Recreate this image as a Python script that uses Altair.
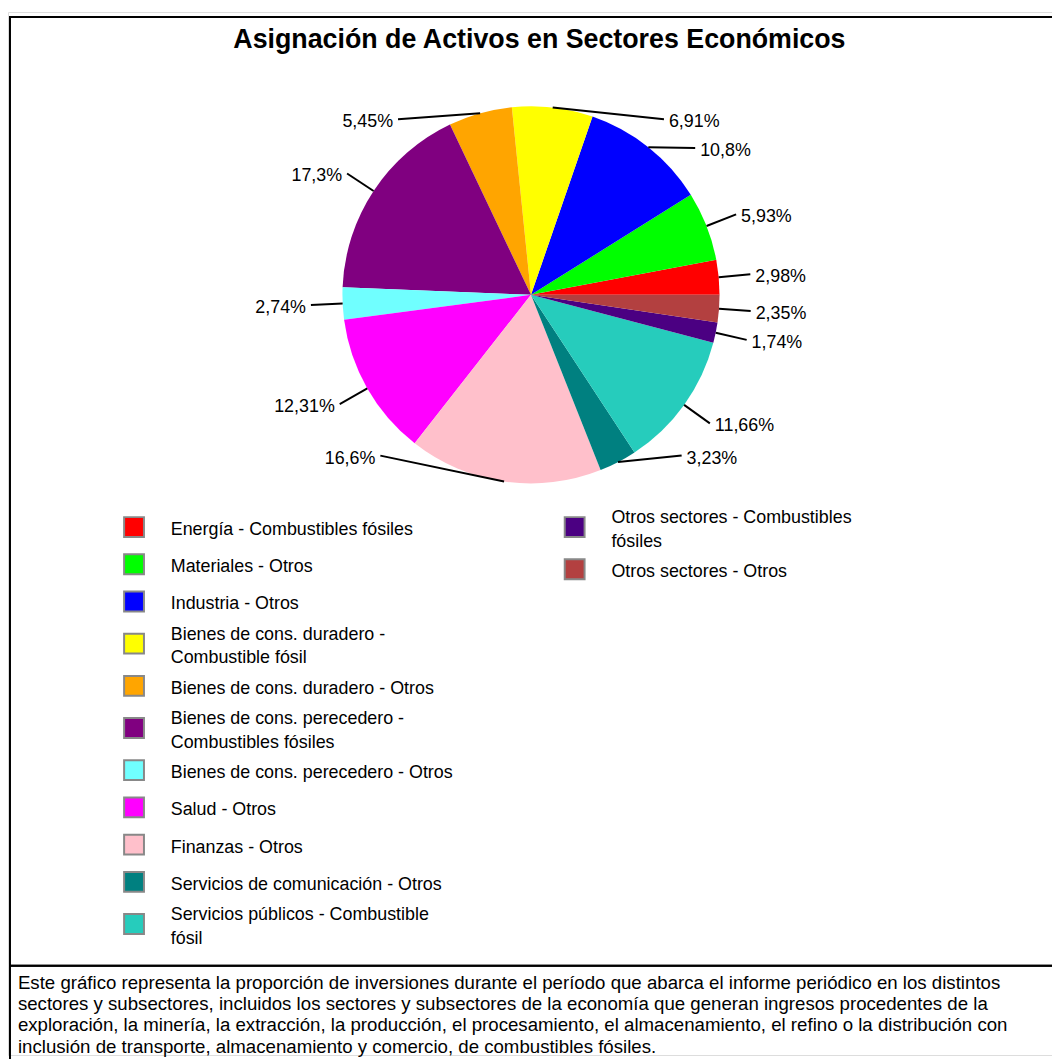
import math
import altair as alt
import pandas as pd

# ---------------- data ----------------
categories = [
    "Energía - Combustibles fósiles",
    "Materiales - Otros",
    "Industria - Otros",
    "Bienes de cons. duradero - Combustible fósil",
    "Bienes de cons. duradero - Otros",
    "Bienes de cons. perecedero - Combustibles fósiles",
    "Bienes de cons. perecedero - Otros",
    "Salud - Otros",
    "Finanzas - Otros",
    "Servicios de comunicación - Otros",
    "Servicios públicos - Combustible fósil",
    "Otros sectores - Combustibles fósiles",
    "Otros sectores - Otros",
]
values = [2.98, 5.93, 10.8, 6.91, 5.45, 17.3, 2.74, 12.31, 16.6, 3.23, 11.66, 1.74, 2.35]
colors = ["#FF0000", "#00FF00", "#0000FF", "#FFFF00", "#FFA500", "#800080", "#70FFFF",
          "#FF00FF", "#FFC0CB", "#008080", "#26CCBC", "#4B0082", "#B34040"]
legend_wrap = {
    "Bienes de cons. duradero - Combustible fósil": "Bienes de cons. duradero -\nCombustible fósil",
    "Bienes de cons. perecedero - Combustibles fósiles": "Bienes de cons. perecedero -\nCombustibles fósiles",
    "Servicios públicos - Combustible fósil": "Servicios públicos - Combustible\nfósil",
    "Otros sectores - Combustibles fósiles": "Otros sectores - Combustibles\nfósiles",
}
title_text = "Asignación de Activos en Sectores Económicos"
footnote_lines = [
    "Este gráfico representa la proporción de inversiones durante el período que abarca el informe periódico en los distintos",
    "sectores y subsectores, incluidos los sectores y subsectores de la economía que generan ingresos procedentes de la",
    "exploración, la minería, la extracción, la producción, el procesamiento, el almacenamiento, el refino o la distribución con",
    "inclusión de transporte, almacenamiento y comercio, de combustibles fósiles.",
]
N_COL1 = 11

# ---------------- layout ----------------
W, H = 1052, 1051
CX, CY, R = 527, 285, 190
RL = 222
FONT = "Liberation Sans"

df = pd.DataFrame({"category": categories, "value": values, "idx": list(range(len(values)))})

# label placement computed from the values
total = sum(values)
cum = 0.0
lab = []
for c, v in zip(categories, values):
    mid = (cum + v / 2) / total * 2 * math.pi
    cum += v
    side = "right" if math.cos(mid) >= 0 else "left"
    ty = CY - RL * math.sin(mid)
    ty = min(max(ty, CY - 177), CY + 162)
    lab.append(dict(category=c, mid=mid, side=side, ty=ty,
                    label=(f"{v:g}".replace(".", ",") + "%")))
for side in ("left", "right"):
    items = sorted([d for d in lab if d["side"] == side], key=lambda d: d["ty"])
    for j in range(1, len(items)):
        if items[j]["ty"] - items[j - 1]["ty"] < 29:
            items[j]["ty"] = items[j - 1]["ty"] + 29
for d in lab:
    sgn = 1 if d["side"] == "right" else -1
    dy = d["ty"] - CY
    d["x0"] = CX + R * math.cos(d["mid"])
    d["y0"] = CY - R * math.sin(d["mid"])
    d["x1"] = CX + sgn * math.sqrt(max(RL ** 2 - dy ** 2, 0))
    d["y1"] = d["ty"]
    d["tx"] = d["x1"] + sgn * 5
    d["tly"] = d["ty"] + 3
ldf = pd.DataFrame(lab)

# legend placement: column-major, two-line entries take a bit more room
leg = []
for col, (sx, lx) in enumerate([(127, 164), (571, 608)]):
    cats = categories[:N_COL1] if col == 0 else categories[N_COL1:]
    y = 519.0
    prev_lines = None
    for c in cats:
        txt = legend_wrap.get(c, c)
        nl = txt.count("\n") + 1
        if prev_lines is not None:
            y += 37.5 + 5 * ((prev_lines - 1) + (nl - 1))
        leg.append(dict(category=c, text=txt, sx=sx, lx=lx, sy=y, ly=y + 3 - 12 * (nl - 1)))
        prev_lines = nl
gdf = pd.DataFrame(leg)

xs = alt.Scale(domain=[0, W], nice=False, zero=False)
ys = alt.Scale(domain=[0, H], nice=False, zero=False, reverse=True)
cscale = alt.Scale(domain=categories, range=colors)

# pie
pie = alt.Chart(df).mark_arc(radius=R).encode(
    theta=alt.Theta("value:Q", stack=True,
                    scale=alt.Scale(range=[math.pi / 2, math.pi / 2 + 2 * math.pi])),
    order=alt.Order("idx:Q", sort="descending"),
    color=alt.Color("category:N", scale=cscale, legend=None),
    x=alt.value(CX),
    y=alt.value(CY),
)

leaders = alt.Chart(ldf).mark_rule(color="black", strokeWidth=2).encode(
    x=alt.X("x0:Q", scale=xs, axis=None),
    y=alt.Y("y0:Q", scale=ys, axis=None),
    x2="x1:Q",
    y2="y1:Q",
)

labels_r = alt.Chart(ldf).transform_filter(alt.datum.side == "right").mark_text(
    align="left", baseline="middle", font=FONT, fontSize=18, color="black"
).encode(x=alt.X("tx:Q", scale=xs, axis=None), y=alt.Y("tly:Q", scale=ys, axis=None), text="label:N")

labels_l = alt.Chart(ldf).transform_filter(alt.datum.side == "left").mark_text(
    align="right", baseline="middle", font=FONT, fontSize=18, color="black"
).encode(x=alt.X("tx:Q", scale=xs, axis=None), y=alt.Y("tly:Q", scale=ys, axis=None), text="label:N")

leg_sym = alt.Chart(gdf).mark_square(size=400, stroke="#888888", strokeWidth=2, opacity=1).encode(
    x=alt.X("sx:Q", scale=xs, axis=None),
    y=alt.Y("sy:Q", scale=ys, axis=None),
    color=alt.Color("category:N", scale=cscale, legend=None),
)
leg_txt = alt.Chart(gdf).mark_text(
    align="left", baseline="middle", font=FONT, fontSize=18, color="black", lineBreak="\n", lineHeight=24
).encode(
    x=alt.X("lx:Q", scale=xs, axis=None),
    y=alt.Y("ly:Q", scale=ys, axis=None),
    text="text:N",
)

one = pd.DataFrame({"k": [0]})
box_top = alt.Chart(one).mark_rect(fill="white", fillOpacity=0, stroke="black", strokeWidth=2).encode(
    x=alt.value(2), x2=alt.value(1200), y=alt.value(5), y2=alt.value(961))
box_bot = alt.Chart(one).mark_rect(fill="white", fillOpacity=0, stroke="black", strokeWidth=2).encode(
    x=alt.value(2), x2=alt.value(1200), y=alt.value(961), y2=alt.value(1200))

title = alt.Chart(pd.DataFrame({"t": [title_text]})).mark_text(
    font=FONT, fontSize=27, fontWeight="bold", color="black", align="center", baseline="alphabetic"
).encode(x=alt.value(535.5), y=alt.value(36), text="t:N")

foot = alt.Chart(pd.DataFrame({"t": ["\n".join(footnote_lines)]})).mark_text(
    font=FONT, fontSize=18.8, color="black", align="left", baseline="top", lineBreak="\n", lineHeight=21.5
).encode(x=alt.value(10), y=alt.value(969), text="t:N")

chart = alt.layer(box_top, box_bot, title, pie, leaders, labels_r, labels_l, leg_sym, leg_txt, foot).properties(
    width=W, height=H, autosize=alt.AutoSizeParams(type="none"), padding=0
).configure_view(stroke=None).configure(background="white")

chart.save("out.html", embed_options={"renderer": "svg", "actions": False})
